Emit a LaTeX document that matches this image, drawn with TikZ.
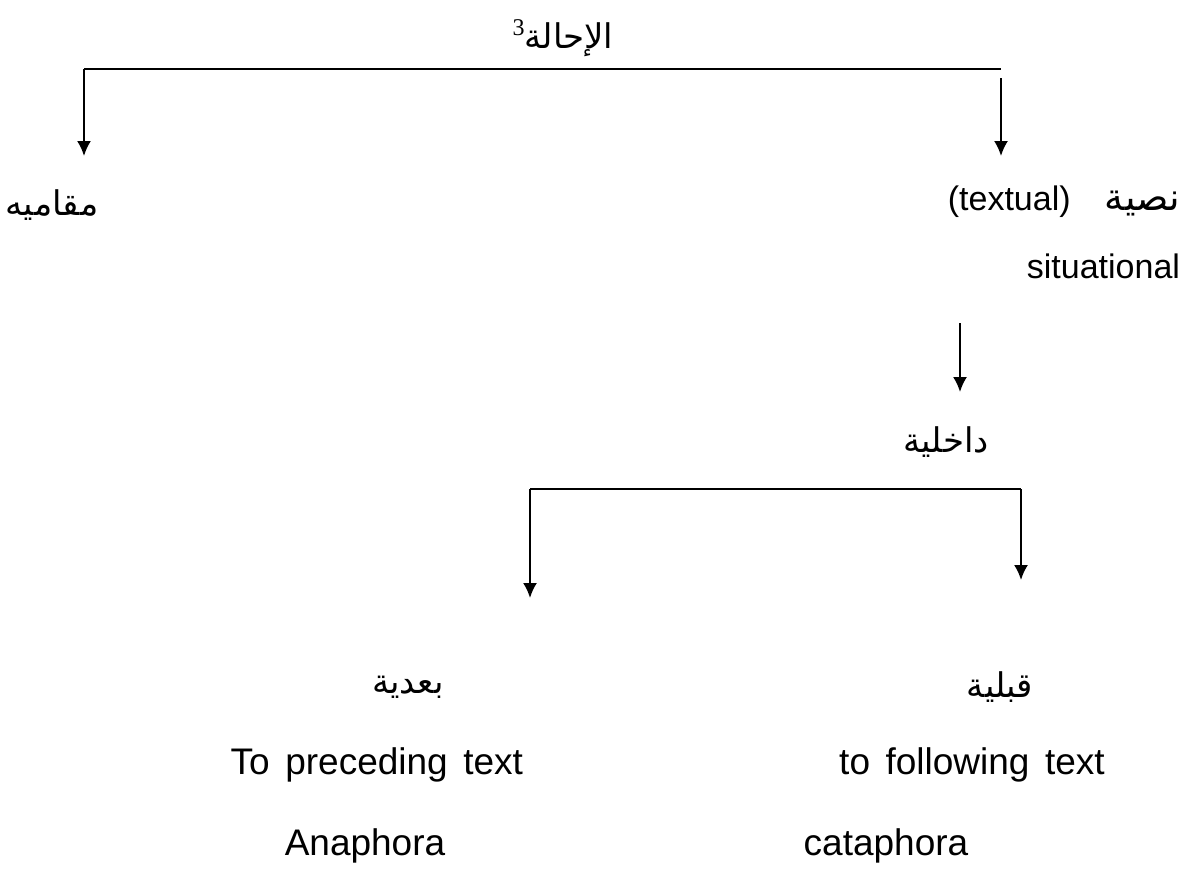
\documentclass[tikz,border=0pt]{standalone}
\usepackage{fontspec}
\setmainfont{Liberation Sans}
\newfontfamily\arabicfont[Script=Arabic]{DejaVu Sans}
\newfontfamily\serifnum{Liberation Serif}
\usetikzlibrary{arrows.meta}
\TeXXeTstate=1
\begin{document}
\begin{tikzpicture}[x=0.5pt,y=-0.5pt,
  every node/.style={inner sep=0pt,outer sep=0pt},
  lbl/.style={font=\fontsize{18.5}{22}\selectfont},
  toplbl/.style={font=\fontsize{17}{20}\selectfont},
  ar/.style={font=\arabicfont\fontsize{17}{20}\selectfont},
  conn/.style={line width=1pt},
  arr/.style={conn,-{Latex[length=7.5pt,width=7pt]}}]
\useasboundingbox (0,0) rectangle (1183,869);
% title
\node[ar] (title) at (563,38) {{\serifnum\fontsize{12}{14}\selectfont\raisebox{0.55em}{3}}\beginR الإحالة\endR};
% top bracket
\coordinate (tl) at (84,69);
\coordinate (tr) at (1001,69);
\coordinate (ltip) at (84,156);
\coordinate (rtop) at (1001,78);
\coordinate (rtip) at (1001,156);
\draw[conn] (tl) -- (tr);
\draw[arr] (tl) -- (ltip);
\draw[arr] (rtop) -- (rtip);
% first level
\node[ar] (maqami) at (52,205) {\beginR مقاميه\endR};
\node[toplbl,anchor=east] (nassiya) at (1180,202) {(textual)\hspace{1em}{\arabicfont\fontsize{19}{20}\selectfont\beginR نصية\endR}};
\node[toplbl,anchor=east] (situ) at (1180,266) {situational};
% arrow to dakhiliya
\coordinate (mtop) at (960,323);
\coordinate (mtip) at (960,392);
\draw[arr] (mtop) -- (mtip);
\node[ar] (dakh) at (946,442) {\beginR داخلية\endR};
% lower bracket
\coordinate (bl) at (530,489);
\coordinate (br) at (1021,489);
\coordinate (bltip) at (530,598);
\coordinate (brtip) at (1021,580);
\draw[conn] (bl) -- (br);
\draw[arr] (bl) -- (bltip);
\draw[arr] (br) -- (brtip);
% leaves
\node[ar] (badiya) at (408,687) {\beginR بعدية\endR};
\node[ar] (qabliya) at (1000,687) {\beginR قبلية\endR};
\node[lbl,anchor=east] (prec) at (523,765) {To\hspace{0.42em}preceding\hspace{0.42em}text};
\node[lbl] (foll) at (972,765) {to\hspace{0.42em}following\hspace{0.42em}text};
\node[lbl] (ana) at (365,846) {Anaphora};
\node[lbl] (cata) at (886,846) {cataphora};
\end{tikzpicture}
\end{document}
